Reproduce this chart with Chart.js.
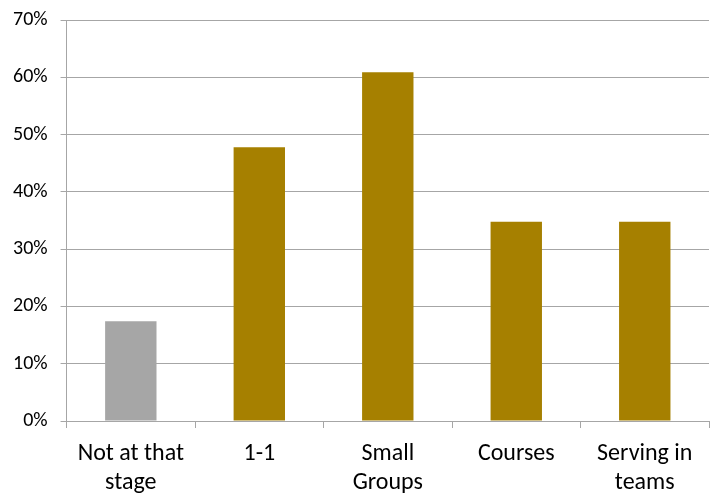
<!DOCTYPE html>
<html>
<head>
<meta charset="utf-8">
<script src="https://cdn.jsdelivr.net/npm/chart.js@4"></script>
<style>
  html, body { margin: 0; padding: 0; background: #fff; }
  #wrap { width: 713px; height: 494px; position: relative; }
</style>
</head>
<body>
<div id="wrap"><canvas id="c" width="713" height="494"></canvas></div>
<script>
const categories = [["Not at that", "stage"], "1-1", ["Small", "Groups"], "Courses", ["Serving in", "teams"]];
const values = [17.4, 47.8, 60.9, 34.8, 34.8];
const barColors = ["#A6A6A6", "#A68000", "#A68000", "#A68000", "#A68000"];
const yTicks = [0, 10, 20, 30, 40, 50, 60, 70];

const FONT = "Carlito, Lato, 'Liberation Sans', sans-serif";

new Chart(document.getElementById('c'), {
  type: 'bar',
  data: {
    labels: categories,
    datasets: [{
      data: values,
      backgroundColor: barColors,
      borderWidth: 0,
      barPercentage: 0.4,
      categoryPercentage: 1.0
    }]
  },
  options: {
    responsive: false,
    animation: false,
    layout: { padding: { top: 20, right: 4, left: 0, bottom: 0 } },
    plugins: { legend: { display: false }, tooltip: { enabled: false } },
    scales: {
      x: {
        afterFit: (axis) => { axis.height = 73; },
        grid: { display: true, drawOnChartArea: false, offset: true, color: '#A6A6A6', tickLength: 7, lineWidth: 1 },
        border: { display: true, color: '#A6A6A6' },
        ticks: { color: '#000', font: { family: FONT, size: 24, lineHeight: 1.2 }, padding: 12, maxRotation: 0, autoSkip: false }
      },
      y: {
        min: 0, max: 70,
        afterBuildTicks: (axis) => { axis.ticks = yTicks.map(v => ({ value: v })); },
        afterFit: (axis) => { axis.paddingTop = 0; },
        grid: { color: '#A6A6A6', tickLength: 6, lineWidth: 1 },
        border: { display: true, color: '#A6A6A6' },
        ticks: { color: '#000', font: { family: FONT, size: 20 }, padding: 13, callback: (v) => v + '%' }
      }
    }
  }
});
</script>
</body>
</html>
